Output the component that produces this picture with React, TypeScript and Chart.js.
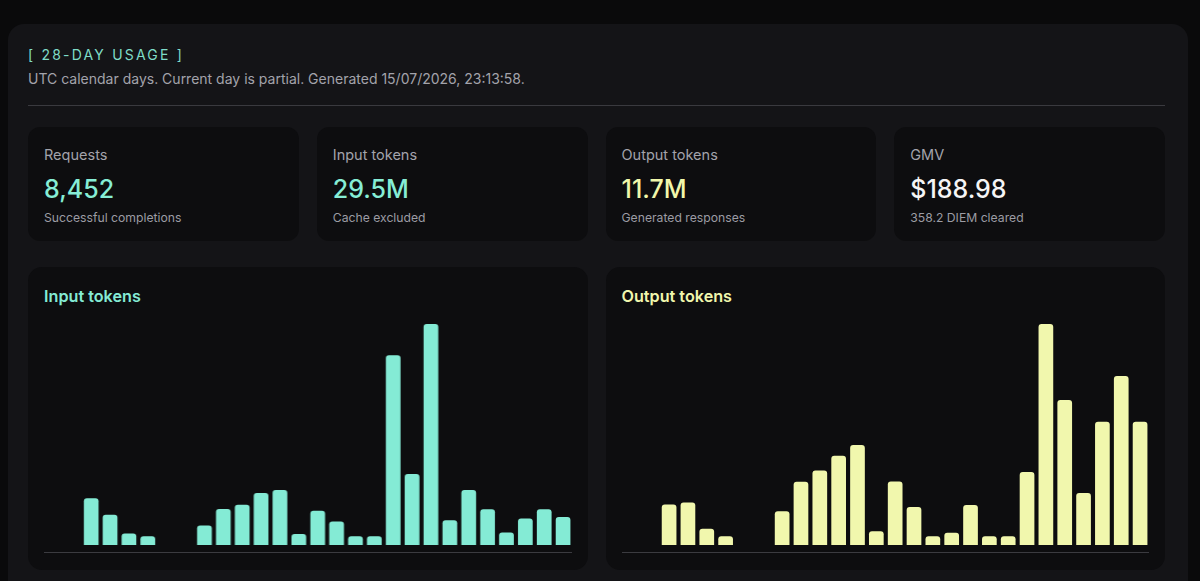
import React, { useEffect, useRef } from "react";
import { Chart, registerables } from "chart.js";

Chart.register(...registerables);

const days: string[] = [
  "06-18", "06-19", "06-20", "06-21", "06-22", "06-23", "06-24",
  "06-25", "06-26", "06-27", "06-28", "06-29", "06-30", "07-01",
  "07-02", "07-03", "07-04", "07-05", "07-06", "07-07", "07-08",
  "07-09", "07-10", "07-11", "07-12", "07-13", "07-14", "07-15",
];

// millions of tokens
const inputTokens: number[] = [
  0, 0, 1.27, 0.82, 0.31, 0.24, 0, 0, 0.53, 0.98, 1.09, 1.41, 1.49, 0.3,
  0.93, 0.64, 0.24, 0.24, 5.15, 1.93, 6.0, 0.67, 1.49, 0.97, 0.34, 0.72, 0.97, 0.76,
];

// thousands of tokens
const outputTokens: number[] = [
  0, 0, 302, 317, 122, 65, 0, 0, 252, 472, 556, 666, 746, 103,
  474, 284, 65, 92, 299, 65, 65, 544, 1647, 1080, 387, 918, 1260, 918,
];

const statLabels: string[] = ["Requests", "Input tokens", "Output tokens", "GMV"];
const statValues: string[] = ["8,452", "29.5M", "11.7M", "$188.98"];
const statNotes: string[] = ["Successful completions", "Cache excluded", "Generated responses", "358.2 DIEM cleared"];
const statColors: string[] = ["#86edd6", "#86edd6", "#f1f7aa", "#f5f5f6"];

const FONT = "Inter, 'Noto Sans', sans-serif";

function BarPanel({ title, color, values }: { title: string; color: string; values: number[] }) {
  const ref = useRef<HTMLCanvasElement | null>(null);
  useEffect(() => {
    if (!ref.current) return;
    const chart = new Chart(ref.current, {
      type: "bar",
      data: {
        labels: days,
        datasets: [
          {
            data: values,
            backgroundColor: color,
            borderRadius: 3,
            borderSkipped: "start",
            barPercentage: 0.78,
            categoryPercentage: 1,
          },
        ],
      },
      options: {
        animation: false,
        responsive: true,
        maintainAspectRatio: false,
        layout: { padding: 0 },
        plugins: { legend: { display: false }, tooltip: { enabled: false } },
        scales: {
          x: { display: false },
          y: { display: false, min: 0, max: Math.max(...values) },
        },
      },
    });
    return () => chart.destroy();
  }, [color, values]);
  return (
    <div
      style={{
        background: "#0d0d0f",
        borderRadius: 14,
        padding: "16px 16px 16px 16px",
        boxSizing: "border-box",
        height: 303,
      }}
    >
      <div style={{ color, fontSize: 16.2, fontWeight: 600, lineHeight: "26px", height: 26 }}>{title}</div>
      <div style={{ height: 15 }} />
      <div style={{ position: "relative", height: 221 }}>
        <canvas ref={ref} />
      </div>
      <div style={{ height: 7 }} />
      <div style={{ height: 1, background: "#3b3b40" }} />
    </div>
  );
}

export default function App() {
  return (
    <div
      style={{
        position: "absolute",
        left: 0,
        top: 0,
        width: 1200,
        height: 581,
        overflow: "hidden",
        background: "#0a0a0b",
        fontFamily: FONT,
      }}
    >
      <div
        style={{
          position: "absolute",
          left: 8,
          top: 24,
          width: 1180,
          height: 620,
          background: "#141417",
          borderRadius: 16,
          padding: "21px 23px 0 20px",
          boxSizing: "border-box",
        }}
      >
        <div
          style={{
            color: "#7fdcc8",
            fontSize: 14,
            letterSpacing: 2.2,
            lineHeight: "20px",
          }}
        >
          [ 28-DAY USAGE ]
        </div>
        <div style={{ color: "#a3a3ab", fontSize: 14, lineHeight: "22px", marginTop: 3 }}>
          UTC calendar days. Current day is partial. Generated 15/07/2026, 23:13:58.
        </div>
        <div style={{ height: 1, background: "#3a3a3f", marginTop: 15 }} />
        <div
          style={{
            display: "grid",
            gridTemplateColumns: "repeat(4, 1fr)",
            columnGap: 18,
            marginTop: 21,
          }}
        >
          {statLabels.map((label, i) => (
            <div
              key={label}
              style={{
                background: "#0d0d0f",
                borderRadius: 12,
                height: 114,
                padding: "17px 16px",
                boxSizing: "border-box",
              }}
            >
              <div style={{ color: "#a3a3ab", fontSize: 14.5, lineHeight: "22px" }}>{label}</div>
              <div style={{ color: statColors[i], fontSize: 25, fontWeight: 500, lineHeight: "32px", marginTop: 7 }}>
                {statValues[i]}
              </div>
              <div style={{ color: "#9c9ca4", fontSize: 12.2, lineHeight: "18px", marginTop: 4 }}>
                {statNotes[i]}
              </div>
            </div>
          ))}
        </div>
        <div
          style={{
            display: "grid",
            gridTemplateColumns: "1fr 1fr",
            columnGap: 18,
            marginTop: 26,
          }}
        >
          <BarPanel title="Input tokens" color="#84ebd5" values={inputTokens} />
          <BarPanel title="Output tokens" color="#f1f7ad" values={outputTokens} />
        </div>
      </div>
    </div>
  );
}
